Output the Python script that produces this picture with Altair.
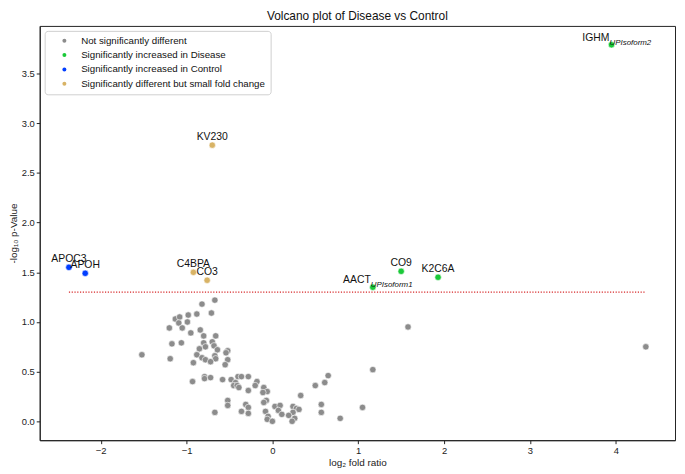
import altair as alt
import pandas as pd

# --- data ---
gray_x = [-0.67, -0.82, -0.98, -0.88, -0.71, -1.13, -1.08, -1.09, -0.99, -1.20, -1.05, -0.95,
          -0.84, -0.80, -0.66, -1.17, -1.06, -0.80, -0.70, -0.78, -0.68, -0.85, -0.64, -0.52,
          -0.54, -1.52, -0.88, -0.67, -1.19, -0.82, -0.78, -0.66, -0.52, -0.72, -0.92, -0.55,
          -0.79, -0.79, -0.72, -0.93, -0.58, -0.48, -0.40, -0.36, -0.28, -0.43, -0.45, -0.41,
          -0.39, -0.18, -0.20, -0.10, -0.28, -0.06, -0.11, 0.33, 0.50, -0.52, -0.52, -0.31,
          -0.07, -0.10, -0.28, -0.67, -0.36, -0.28, -0.08, 0.03, 0.09, 0.07, 0.11, -0.05,
          -0.06, 0.00, 0.24, 0.28, 0.31, 0.24, 0.19, 0.26, 0.23, 0.65, 0.61, 0.57, 0.57,
          1.05, 0.79, 1.17, 1.58, 4.35]
gray_y = [1.22, 1.18, 1.07, 1.08, 1.09, 1.03, 1.05, 0.99, 1.00, 0.94, 0.94, 0.89,
          0.92, 0.86, 0.86, 0.78, 0.79, 0.79, 0.80, 0.75, 0.76, 0.73, 0.72, 0.71,
          0.69, 0.67, 0.67, 0.66, 0.63, 0.64, 0.62, 0.63, 0.62, 0.60, 0.59, 0.57,
          0.45, 0.43, 0.44, 0.40, 0.42, 0.42, 0.45, 0.45, 0.45, 0.39, 0.36, 0.36,
          0.34, 0.40, 0.36, 0.34, 0.31, 0.30, 0.29, 0.26, 0.36, 0.21, 0.16, 0.17,
          0.21, 0.19, 0.14, 0.09, 0.10, 0.08, 0.10, 0.15, 0.16, 0.11, 0.07, 0.05,
          0.02, 0.00, 0.15, 0.13, 0.12, 0.09, 0.06, 0.03, 0.00, 0.46, 0.39, 0.17, 0.09,
          0.14, 0.03, 0.52, 0.95, 0.75]

lab_main = ["IGHM", "KV230", "APOC3", "APOH", "C4BPA", "CO3", "AACT", "CO9", "K2C6A"]
lab_sub = ["UPIsoform2", "", "", "", "", "", "UPIsoform1", "", ""]
lab_x = [3.95, -0.70, -2.37, -2.18, -0.92, -0.76, 1.17, 1.50, 1.93]
lab_y = [3.79, 2.78, 1.55, 1.49, 1.50, 1.42, 1.35, 1.51, 1.45]
lab_group = ["Significantly increased in Disease",
             "Significantly different but small fold change",
             "Significantly increased in Control",
             "Significantly increased in Control",
             "Significantly different but small fold change",
             "Significantly different but small fold change",
             "Significantly increased in Disease",
             "Significantly increased in Disease",
             "Significantly increased in Disease"]

groups = ["Not significantly different",
          "Significantly increased in Disease",
          "Significantly increased in Control",
          "Significantly different but small fold change"]
group_colors = ["#8c8c8c", "#1ac938", "#023eff", "#d8b365"]

threshold = 1.3
x_ticks = [-2, -1, 0, 1, 2, 3, 4]
y_ticks = [0.0, 0.5, 1.0, 1.5, 2.0, 2.5, 3.0, 3.5]

# --- tables ---
pts = pd.DataFrame({
    "x": gray_x + lab_x,
    "y": gray_y + lab_y,
    "group": [groups[0]] * len(gray_x) + lab_group,
})
labels = pd.DataFrame({"x": lab_x, "y": lab_y, "main": lab_main, "sub": lab_sub})
all_x = gray_x + lab_x
thr = pd.DataFrame({"x": [min(all_x)], "x2": [max(all_x)], "y": [threshold]})

FONT = "Liberation Sans"
xscale = alt.Scale(domain=[-2.71, 4.69], nice=False, zero=False)
yscale = alt.Scale(domain=[-0.19, 3.98], nice=False, zero=False)

X = alt.X("x:Q", scale=xscale,
          axis=alt.Axis(values=x_ticks, format="d", title="log₂ fold ratio"))
Y = alt.Y("y:Q", scale=yscale,
          axis=alt.Axis(values=y_ticks, format=".1f", title="-log₁₀ p-Value"))

rule = alt.Chart(thr).mark_rule(color="#d62728", strokeDash=[1.2, 1.6], strokeWidth=1.2).encode(
    x=alt.X("x:Q", scale=xscale), x2="x2:Q", y=alt.Y("y:Q", scale=yscale))

points = alt.Chart(pts).mark_point(filled=True, size=42, stroke="white", strokeWidth=0.6,
                                   opacity=1).encode(
    x=X, y=Y,
    color=alt.Color("group:N", scale=alt.Scale(domain=groups, range=group_colors),
                    legend=alt.Legend(title=None, orient="top-left", offset=5,
                                      padding=5, fillColor="white", strokeColor="#cfcfcf",
                                      cornerRadius=3, symbolSize=16, symbolStrokeWidth=0,
                                      symbolType="circle", labelFontSize=9.8, labelFont=FONT,
                                      labelLimit=400, rowPadding=3.5, symbolOffset=10,
                                      labelOffset=12, labelColor="#111")),
    order=alt.Order("ord:Q"),
).transform_calculate(ord="datum.group == 'Not significantly different' ? 0 : 1")

simple = alt.Chart(labels).transform_filter("datum.sub == ''").mark_text(
    font=FONT, fontSize=10.5, align="center", baseline="alphabetic", dy=-5, color="#111"
).encode(x=alt.X("x:Q", scale=xscale), y=alt.Y("y:Q", scale=yscale), text="main:N")

comp_main = alt.Chart(labels).transform_filter("datum.sub != ''").mark_text(
    font=FONT, fontSize=10.5, align="right", baseline="alphabetic", dx=-2, dy=-4, color="#111"
).encode(x=alt.X("x:Q", scale=xscale), y=alt.Y("y:Q", scale=yscale), text="main:N")

comp_sub = alt.Chart(labels).transform_filter("datum.sub != ''").mark_text(
    font=FONT, fontSize=8, fontStyle="italic", align="left", baseline="alphabetic",
    dx=-2, dy=0, color="#111"
).encode(x=alt.X("x:Q", scale=xscale), y=alt.Y("y:Q", scale=yscale), text="sub:N")

chart = alt.layer(rule, points, simple, comp_main, comp_sub).properties(
    width=641, height=418,
    padding={"left": 0, "top": 0, "right": 2, "bottom": 1},
    title=alt.Title("Volcano plot of Disease vs Control", fontSize=12, font=FONT,
                    fontWeight="normal", anchor="middle", offset=3, color="#111"),
).configure_view(stroke="#222", strokeWidth=1).configure_axis(
    grid=False, domainColor="#222", tickColor="#222", tickSize=3.5,
    labelFont=FONT, titleFont=FONT, labelFontSize=9.5, titleFontSize=10,
    titleFontWeight="normal", labelColor="#222", titleColor="#222",
    labelPadding=2, titlePadding=3,
)

chart.save("out.html", embed_options={"renderer": "svg", "actions": False})
